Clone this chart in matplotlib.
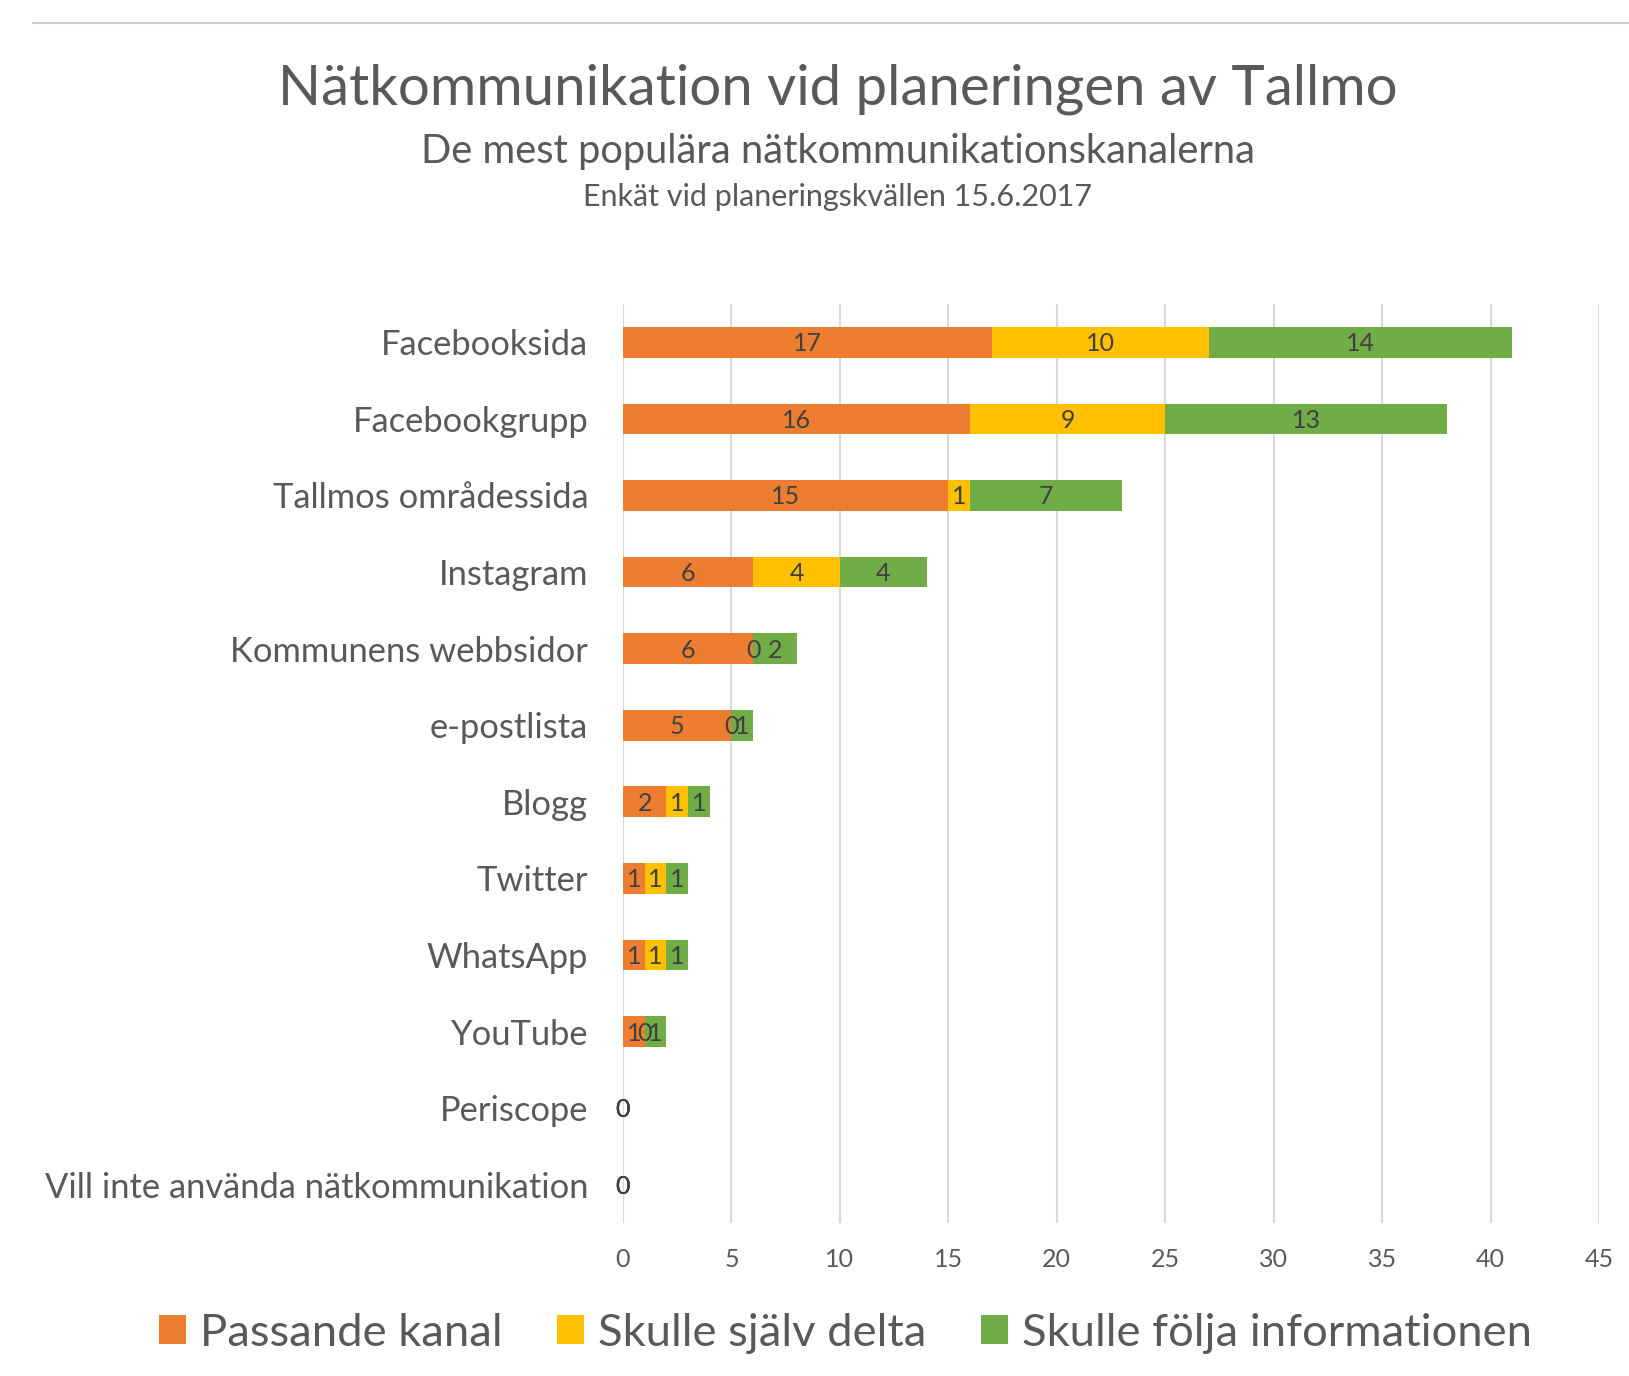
import matplotlib
matplotlib.use("Agg")
import matplotlib.pyplot as plt
from matplotlib.patches import Patch
from matplotlib.lines import Line2D
import numpy as np

categories = ["Facebooksida", "Facebookgrupp", "Tallmos områdessida", "Instagram",
              "Kommunens webbsidor", "e-postlista", "Blogg", "Twitter", "WhatsApp",
              "YouTube", "Periscope", "Vill inte använda nätkommunikation"]
passande = [17, 16, 15, 6, 6, 5, 2, 1, 1, 1, 0, 0]
delta = [10, 9, 1, 4, 0, 0, 1, 1, 1, 0, 0, 0]
folja = [14, 13, 7, 4, 2, 1, 1, 1, 1, 1, 0, 0]
series_names = ["Passande kanal", "Skulle själv delta", "Skulle följa informationen"]
colors = ["#ED7D31", "#FFC000", "#70AD47"]
xticks = [0, 5, 10, 15, 20, 25, 30, 35, 40, 45]

FONT = "Lato"
TXT = "#595959"
plt.rcParams["font.family"] = [FONT, "DejaVu Sans"]

fig = plt.figure(figsize=(16.29, 13.76), dpi=100)
fig.patch.set_facecolor("white")
# panel top border
fig.add_artist(Line2D([33/1629, 1.0], [1-23/1376, 1-23/1376], color="#d0d0d0", lw=1.5))

ax = fig.add_axes([623/1629, 1-1223/1376, (1599-623)/1629, (1223-304)/1376])
y = np.arange(len(categories))
left = np.zeros(len(categories))
for vals, name, c in zip([passande, delta, folja], series_names, colors):
    vals = np.array(vals, dtype=float)
    ax.barh(y, vals, left=left, height=0.4, color=c, label=name, zorder=2)
    for yi, (l, v) in enumerate(zip(left, vals)):
        ax.text(l + v/2, yi + 0.02, f"{int(v)}", ha="center", va="center",
                fontsize=18, color="#404040", zorder=3)
    left = left + vals

ax.set_xlim(0, 45)
ax.set_ylim(len(categories)-0.5, -0.5)
ax.set_xticks(xticks)
ax.set_xticklabels([str(t) for t in xticks], fontsize=18, color=TXT)
ax.set_yticks(y)
ax.set_yticklabels(categories, fontsize=24.8, color=TXT)
ax.tick_params(axis="both", length=0)
ax.tick_params(axis="x", pad=18)
ax.tick_params(axis="y", pad=25)
ax.grid(axis="x", color="#d9d9d9", lw=1.5, zorder=0)
for s in ax.spines.values():
    s.set_visible(False)

cx = 838/1629
fig.text(cx, 1-89/1376, "Nätkommunikation vid planeringen av Tallmo", ha="center", va="center",
         fontsize=40.6, color=TXT)
fig.text(cx, 1-152/1376, "De mest populära nätkommunikationskanalerna", ha="center", va="center",
         fontsize=28.7, color=TXT)
fig.text(cx, 1-197/1376, "Enkät vid planeringskvällen 15.6.2017", ha="center", va="center",
         fontsize=22, color=TXT)

handles = [Patch(facecolor=c, edgecolor="none") for c in colors]
leg = fig.legend(handles, series_names, loc="center", bbox_to_anchor=(0.519, 1-1333/1376),
                 ncol=3, frameon=False, fontsize=32.7, handlelength=0.6, handleheight=0.6,
                 handletextpad=0.3, columnspacing=1.2)
for t in leg.get_texts():
    t.set_color(TXT)

fig.savefig("out.png", dpi=100)
